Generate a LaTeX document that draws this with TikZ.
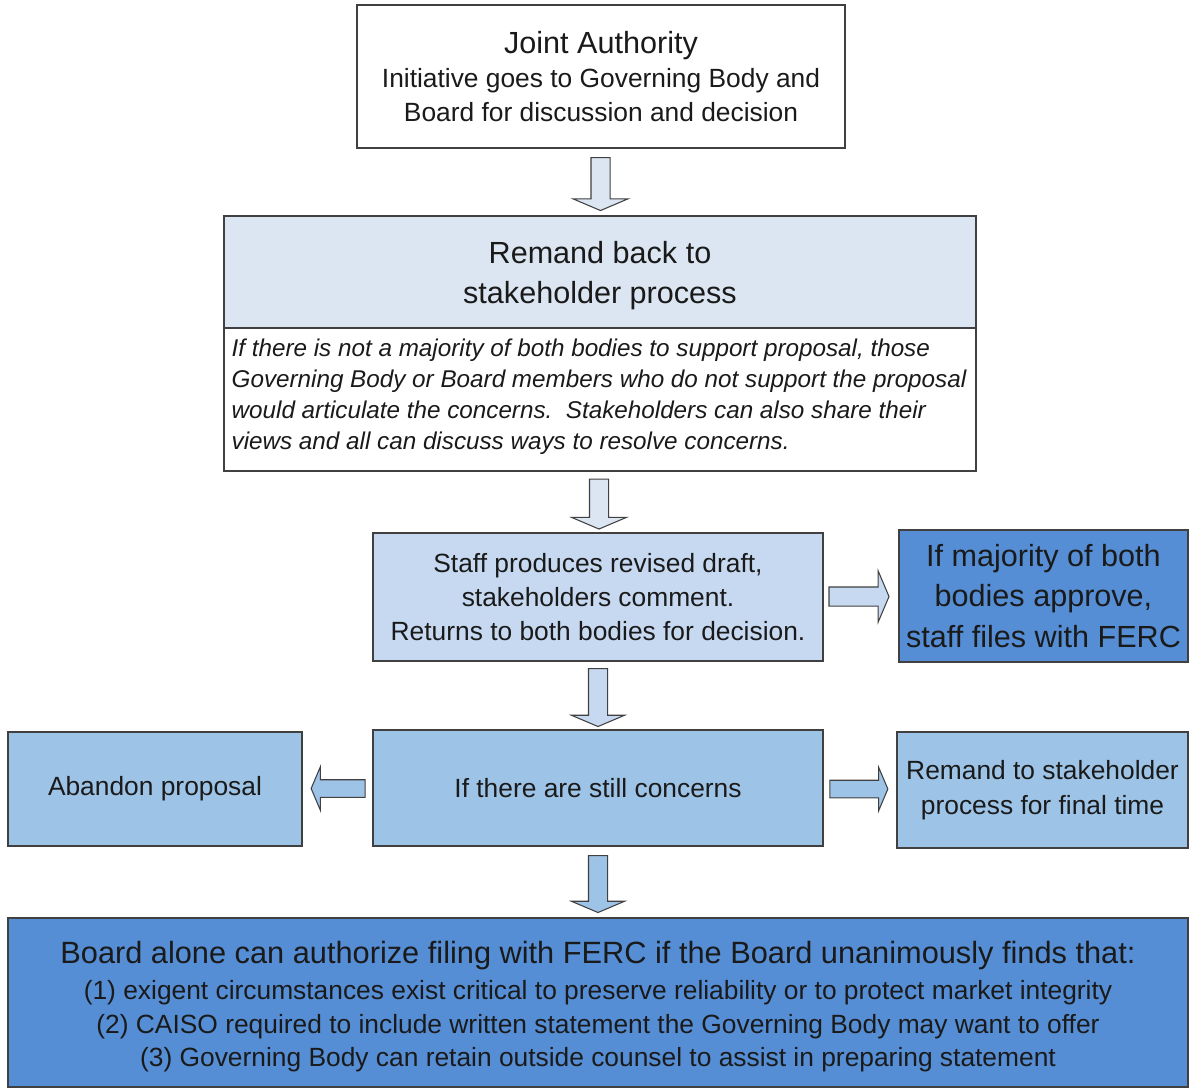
\documentclass[tikz,border=0pt]{standalone}
\usepackage{fontspec}
\setmainfont{Liberation Sans}
\usepackage{tikz}
\usetikzlibrary{positioning}
\usetikzlibrary{calc}
\usetikzlibrary{shapes.arrows}
\definecolor{boxLine}{HTML}{404040}
\definecolor{fillLight}{HTML}{DCE6F2}
\definecolor{fillStaff}{HTML}{C6D9F1}
\definecolor{fillMid}{HTML}{9DC3E6}
\definecolor{fillDark}{HTML}{558ED5}
\definecolor{txt}{HTML}{1A1A1A}
\tikzset{mybox/.style={draw=boxLine, line width=0.8pt, text=txt, align=center, inner sep=0pt, font=\fontsize{15}{19.3}\selectfont}}
\tikzset{myboxWhite/.style={mybox, fill=white}}
\tikzset{myboxLight/.style={mybox, fill=fillLight, font=\fontsize{17.4}{22.8}\selectfont}}
\tikzset{myboxStaff/.style={mybox, fill=fillStaff}}
\tikzset{myboxMid/.style={mybox, fill=fillMid}}
\tikzset{myboxDark/.style={mybox, fill=fillDark}}
\tikzset{myarrow/.style={draw=boxLine, line width=0.6pt, shape=single arrow, single arrow tip angle=134, inner xsep=0pt, inner ysep=0.18cm, minimum width=0pt, single arrow head extend=0.36cm, minimum height=1.06cm}}

\begin{document}
\begin{tikzpicture}

\useasboundingbox (0, 0) rectangle (23.8, -21.78);

\node[myboxWhite, minimum width=9.76cm, minimum height=2.86cm] (joint) at (12.02, -1.53) {{\fontsize{17.4}{22}\selectfont Joint Authority}\\ Initiative goes to Governing Body and\\ Board for discussion and decision};

\node[myboxLight, minimum width=15.04cm, minimum height=2.24cm, text height=39.4pt] (remand) at (12.00, -5.44) {Remand back to\\ stakeholder process};
\node[myboxWhite, minimum width=15.04cm, minimum height=2.86cm] (detail) at (12.00, -7.99) {};
\node[right=0.16cm of detail.west, yshift=0.05cm, align=left, inner sep=0pt, text=txt, font=\fontsize{13.8}{17.6}\selectfont\itshape] (detailtext) {If there is not a majority of both bodies to support proposal, those\\ Governing Body or Board members who do not support the proposal\\ would articulate the concerns.~~Stakeholders can also share their\\ views and all can discuss ways to resolve concerns.};

\node[myboxStaff, minimum width=9.00cm, minimum height=2.56cm] (staff) at (11.96, -11.94) {Staff produces revised draft,\\ stakeholders comment.\\ Returns to both bodies for decision.};
\node[myboxDark, minimum width=5.78cm, minimum height=2.64cm, font=\fontsize{17.4}{22.8}\selectfont] (ferc) at (20.87, -11.92) {If majority of both\\ bodies approve,\\ staff files with FERC};

\node[myboxMid, minimum width=9.00cm, minimum height=2.32cm] (concerns) at (11.96, -15.76) {If there are still concerns};
\node[myboxMid, minimum width=5.88cm, minimum height=2.28cm] (abandon) at (3.10, -15.78) {Abandon proposal};
\node[myboxMid, minimum width=5.82cm, minimum height=2.32cm, font=\fontsize{15}{19.9}\selectfont] (final) at (20.85, -15.80) {Remand to stakeholder\\ process for final time};

\node[myboxDark, minimum width=23.6cm, minimum height=3.38cm, text height=76.5pt] (filing) at (11.96, -20.05) {{\fontsize{17.5}{21}\selectfont Board alone can authorize filing with FERC if the Board unanimously finds that:}\\[1pt] (1) exigent circumstances exist critical to preserve reliability or to protect market integrity\\ (2) CAISO required to include written statement the Governing Body may want to offer\\ (3) Governing Body can retain outside counsel to assist in preparing statement};

% block arrows between the boxes
\node[myarrow, fill=fillLight, rotate=-90] (a1) at ($(joint.south)!0.5!(remand.north)$) {};
\node[myarrow, fill=fillLight, rotate=-90, minimum height=1.00cm] (a2) at ($(detail.south)!0.5!(staff.north)$) {};
\node[myarrow, fill=fillStaff, rotate=-90, minimum height=1.16cm, single arrow head extend=0.34cm] (a3) at ($(staff.south)!0.5!(concerns.north)$) {};
\node[myarrow, fill=fillMid, rotate=-90, minimum height=1.14cm, single arrow head extend=0.34cm] (a4) at ($(concerns.south)!0.5!(filing.north)$) {};
\node[myarrow, fill=fillStaff, minimum height=1.20cm, single arrow head extend=0.32cm] (ar1) at ($(staff.east)!0.5!(ferc.west)+(-0.08,0)$) {};
\node[myarrow, fill=fillMid, rotate=180, minimum height=1.08cm, inner ysep=0.165cm, single arrow head extend=0.26cm] (al) at ($(abandon.east)!0.5!(concerns.west)+(0.05,0)$) {};
\node[myarrow, fill=fillMid, minimum height=1.16cm, inner ysep=0.165cm, single arrow head extend=0.26cm] (ar2) at ($(concerns.east)!0.5!(final.west)+(-0.06,0)$) {};

\end{tikzpicture}
\end{document}
